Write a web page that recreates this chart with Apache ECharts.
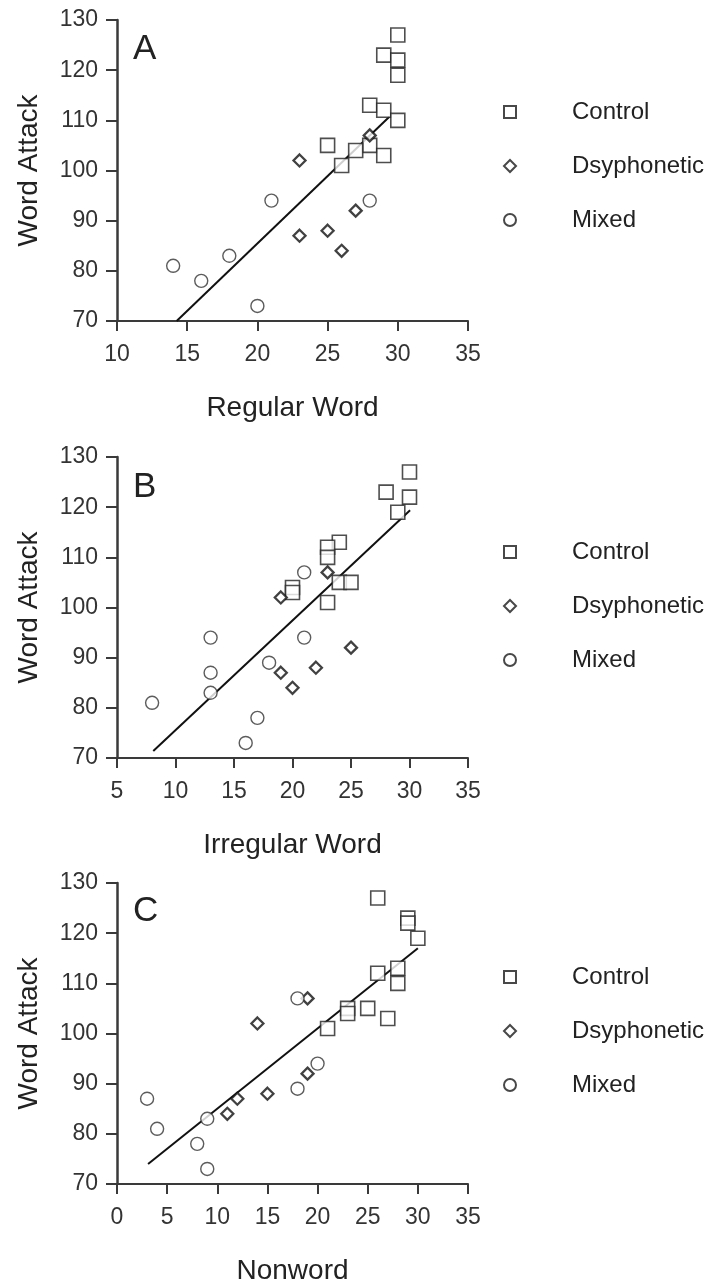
<!DOCTYPE html>
<html>
<head>
<meta charset="utf-8">
<script src="https://cdn.jsdelivr.net/npm/echarts@6/dist/echarts.min.js"></script>
<style>
  html, body { margin: 0; padding: 0; background: #fff; }
  #chart { width: 714px; height: 1287px; }
</style>
</head>
<body>
<div id="chart"></div>
<script>
// Word Attack score against three reading measures, by reader group.
const groups = ['Control', 'Dsyphonetic', 'Mixed'];
const panelLetters = ['A', 'B', 'C'];
const xTitles = ['Regular Word', 'Irregular Word', 'Nonword'];
const xMins = [10, 5, 0];
const xMax = 35;
const yMin = 70, yMax = 130;

// Panel A: Regular Word vs Word Attack
const controlA = [[30,127],[29,123],[30,122],[30,119],[28,113],[29,112],[30,110],[25,105],[28,105],[27,104],[29,103],[26,101]];
const dysA     = [[23,102],[23,87],[25,88],[26,84],[27,92],[28,107]];
const mixedA   = [[14,81],[16,78],[18,83],[20,73],[21,94],[28,94]];
const fitA     = [[14.25,70],[29.4,110.7]];

// Panel B: Irregular Word vs Word Attack
const controlB = [[30,127],[28,123],[30,122],[29,119],[24,113],[23,112],[23,110],[24,105],[25,105],[20,104],[20,103],[23,101]];
const dysB     = [[19,102],[23,107],[19,87],[20,84],[22,88],[25,92]];
const mixedB   = [[8,81],[13,94],[13,87],[13,83],[21,107],[21,94],[18,89],[17,78],[16,73]];
const fitB     = [[8.1,71.4],[30.05,119.4]];

// Panel C: Nonword vs Word Attack
const controlC = [[26,127],[29,123],[29,122],[30,119],[26,112],[28,113],[28,110],[23,105],[23,104],[25,105],[27,103],[21,101]];
const dysC     = [[14,102],[19,107],[11,84],[12,87],[15,88],[19,92]];
const mixedC   = [[3,87],[4,81],[9,83],[8,78],[9,73],[18,107],[18,89],[20,94]];
const fitC     = [[3.1,74],[30,117]];

const panels = [
  { control: controlA, dys: dysA, mixed: mixedA, fit: fitA },
  { control: controlB, dys: dysB, mixed: mixedB, fit: fitB },
  { control: controlC, dys: dysC, mixed: mixedC, fit: fitC }
];

const FONT = '"Liberation Sans", Arial, Helvetica, sans-serif';
const INK = '#222';
const AXIS = '#3a3a3a';

// layout of each panel's plotting area
const gridTops = [20, 457, 883];
const gridLeft = 117, gridWidth = 351, gridHeight = 301;
const legendTops = [94, 534, 959];
const letterTops = [32, 470, 894];

const symbolStyles = {
  Control:     { symbol: 'rect',    symbolSize: 14, itemStyle: { color: '#fff', borderColor: INK, borderWidth: 1.6 } },
  Dsyphonetic: { symbol: 'diamond', symbolSize: 12, itemStyle: { color: '#fff', borderColor: '#111', borderWidth: 2.3 } },
  Mixed:       { symbol: 'circle',  symbolSize: 13, itemStyle: { color: '#fff', borderColor: '#333', borderWidth: 1.4 } }
};

const grid = [], xAxis = [], yAxis = [], series = [], legend = [], title = [];

panels.forEach((p, i) => {
  grid.push({ left: gridLeft, top: gridTops[i], width: gridWidth, height: gridHeight, outerBoundsMode: 'none' });

  xAxis.push({
    type: 'value', gridIndex: i, min: xMins[i], max: xMax, interval: 5,
    name: xTitles[i], nameLocation: 'middle', nameGap: 73,
    nameTextStyle: { fontFamily: FONT, fontSize: 28, color: INK },
    axisLine: { show: true, onZero: false, lineStyle: { color: AXIS, width: 2 } },
    axisTick: { show: true, length: 10, lineStyle: { color: AXIS, width: 2 } },
    axisLabel: { fontFamily: FONT, fontSize: 23, color: '#333', margin: 22 },
    splitLine: { show: false }
  });

  yAxis.push({
    type: 'value', gridIndex: i, min: yMin, max: yMax, interval: 10,
    name: 'Word Attack', nameLocation: 'middle', nameGap: 74,
    nameTextStyle: { fontFamily: FONT, fontSize: 28, color: INK },
    axisLine: { show: true, onZero: false, lineStyle: { color: AXIS, width: 2.5 } },
    axisTick: { show: true, length: 11, lineStyle: { color: AXIS, width: 2 } },
    axisLabel: { fontFamily: FONT, fontSize: 23, color: '#333', margin: 19 },
    splitLine: { show: false }
  });

  // fitted regression line
  series.push({
    name: 'fit' + panelLetters[i], type: 'line', xAxisIndex: i, yAxisIndex: i,
    data: p.fit, symbol: 'none', silent: true,
    lineStyle: { color: '#111', width: 2 }, z: 1
  });

  [['Control', p.control], ['Dsyphonetic', p.dys], ['Mixed', p.mixed]].forEach(([name, data]) => {
    const s = symbolStyles[name];
    series.push({
      name, type: 'scatter', xAxisIndex: i, yAxisIndex: i, data,
      symbol: s.symbol, symbolSize: s.symbolSize, itemStyle: s.itemStyle, z: 3
    });
  });

  legend.push({
    orient: 'vertical', left: 498, top: legendTops[i],
    itemWidth: 12, itemHeight: 12, itemGap: 28, selectedMode: false,
    itemStyle: { color: '#fff', borderColor: '#1a1a1a', borderWidth: 2 },
    textStyle: { fontFamily: FONT, fontSize: 24, color: INK, lineHeight: 26, padding: [0, 0, 0, 51] },
    data: groups.map(g => ({ name: g, icon: symbolStyles[g].symbol }))
  });

  title.push({
    text: panelLetters[i], left: 133, top: letterTops[i], padding: 0,
    textStyle: { fontFamily: FONT, fontSize: 35, fontWeight: 'normal', color: INK }
  });
});

const chart = echarts.init(document.getElementById('chart'), null, { renderer: 'canvas' });
chart.setOption({
  animation: false,
  backgroundColor: '#fff',
  title, legend, grid, xAxis, yAxis, series
});
</script>
</body>
</html>
